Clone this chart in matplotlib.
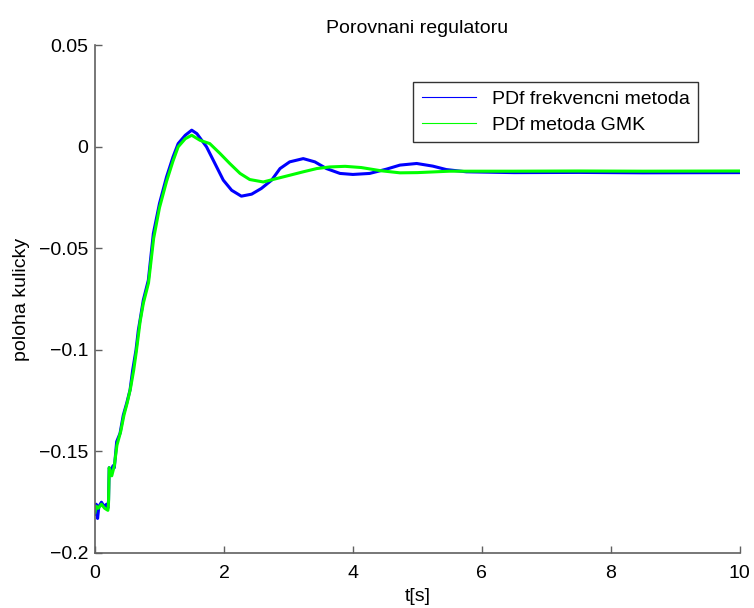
import matplotlib
matplotlib.use("Agg")
import matplotlib.pyplot as plt
from matplotlib.lines import Line2D

plt.rcParams['font.family'] = ['Liberation Sans', 'DejaVu Sans']

# PDf regulator tuned by frequency method
t_freq = [0.00, 0.02, 0.04, 0.06, 0.10, 0.14, 0.18, 0.20, 0.21, 0.22, 0.25, 0.28,
          0.30, 0.336, 0.388, 0.439, 0.491, 0.543, 0.584, 0.636, 0.672, 0.708, 0.749,
          0.827, 0.905, 1.00, 1.11, 1.21, 1.29, 1.40, 1.50, 1.58, 1.73, 1.86, 1.99,
          2.12, 2.27, 2.43, 2.58, 2.74, 2.87, 3.02, 3.23, 3.41, 3.59, 3.80, 4.00,
          4.26, 4.52, 4.73, 4.99, 5.24, 5.45, 5.76, 6.5, 7.5, 8.5, 10.0]
y_freq = [-0.181, -0.176, -0.183, -0.177, -0.175, -0.177, -0.176, -0.178, -0.174,
          -0.158, -0.160, -0.157, -0.158, -0.1452, -0.1411, -0.1321, -0.1263, -0.1198,
          -0.110, -0.100, -0.0903, -0.0835, -0.0755, -0.0657, -0.0427, -0.0279,
          -0.0148, -0.005, 0.0016, 0.0057, 0.0082, 0.0065, 0.0, -0.0082, -0.0164,
          -0.0214, -0.0243, -0.0233, -0.0205, -0.0164, -0.0107, -0.0074, -0.0058,
          -0.0074, -0.0107, -0.0131, -0.0136, -0.0131, -0.0110, -0.0090, -0.0082,
          -0.0095, -0.0112, -0.0123, -0.0127, -0.0126, -0.0128, -0.0127]

# PDf regulator tuned by GMK method
t_gmk = [0.00, 0.02, 0.05, 0.10, 0.15, 0.20, 0.21, 0.22, 0.26, 0.30, 0.34, 0.40,
         0.45, 0.50, 0.55, 0.60, 0.64, 0.70, 0.75, 0.83, 0.91, 1.00, 1.11, 1.21,
         1.29, 1.40, 1.50, 1.63, 1.78, 1.94, 2.09, 2.25, 2.40, 2.61, 2.82, 3.02,
         3.23, 3.44, 3.64, 3.88, 4.13, 4.44, 4.73, 5.00, 5.50, 6.5, 7.5, 8.5, 10.0]
y_gmk = [-0.180, -0.177, -0.178, -0.176, -0.178, -0.179, -0.175, -0.158, -0.162,
         -0.157, -0.147, -0.140, -0.132, -0.126, -0.119, -0.110, -0.101, -0.086,
         -0.077, -0.067, -0.045, -0.030, -0.017, -0.007, 0.0, 0.004, 0.0057, 0.0032,
         0.0016, -0.0033, -0.0082, -0.0131, -0.0161, -0.0173, -0.0156, -0.0140,
         -0.0123, -0.0107, -0.0099, -0.0096, -0.0102, -0.0118, -0.0128, -0.0127,
         -0.0120, -0.0120, -0.0119, -0.0120, -0.0119]

labels = ['PDf frekvencni metoda', 'PDf metoda GMK']
colors = ['#0000ff', '#00ff00']

fig = plt.figure(figsize=(7.54, 6.08), dpi=100)
ax = fig.add_axes([0.126, 0.0905, 0.855, 0.835])

ax.plot(t_freq, y_freq, color=colors[0], lw=2.2)
ax.plot(t_gmk, y_gmk, color=colors[1], lw=2.2)

ax.set_xlim(0, 10)
ax.set_ylim(-0.2, 0.05)
ax.set_xticks([0, 2, 4, 6, 8, 10])
ax.set_yticks([-0.2, -0.15, -0.1, -0.05, 0, 0.05])
ax.set_yticklabels(['\u22120.2', '\u22120.15', '\u22120.1', '\u22120.05', '0', '0.05'])

for side in ['top', 'right']:
    ax.spines[side].set_visible(False)
for side in ['left', 'bottom']:
    ax.spines[side].set_color('#606060')
    ax.spines[side].set_linewidth(1.2)
ax.tick_params(direction='in', length=5, width=1, color='#606060',
               labelsize=14, labelcolor='black')
ax.tick_params(axis='y', pad=5)
ax.tick_params(axis='x', pad=9)

ax.set_title('Porovnani regulatoru', fontsize=14, pad=9)
ax.set_xlabel('t[s]', fontsize=14, labelpad=4)
ax.set_ylabel('poloha kulicky', fontsize=14, labelpad=6)

handles = [Line2D([], [], color=c, lw=0.8) for c in colors]
leg = ax.legend(handles, labels, loc='upper left', bbox_to_anchor=(0.493, 0.928),
                fontsize=14, frameon=True, fancybox=False, handlelength=2.8,
                handletextpad=0.8, labelspacing=0.4, borderpad=0.45,
                borderaxespad=0)
leg.get_frame().set_edgecolor('black')
leg.get_frame().set_linewidth(1.0)

fig.savefig('out.png', dpi=100)
